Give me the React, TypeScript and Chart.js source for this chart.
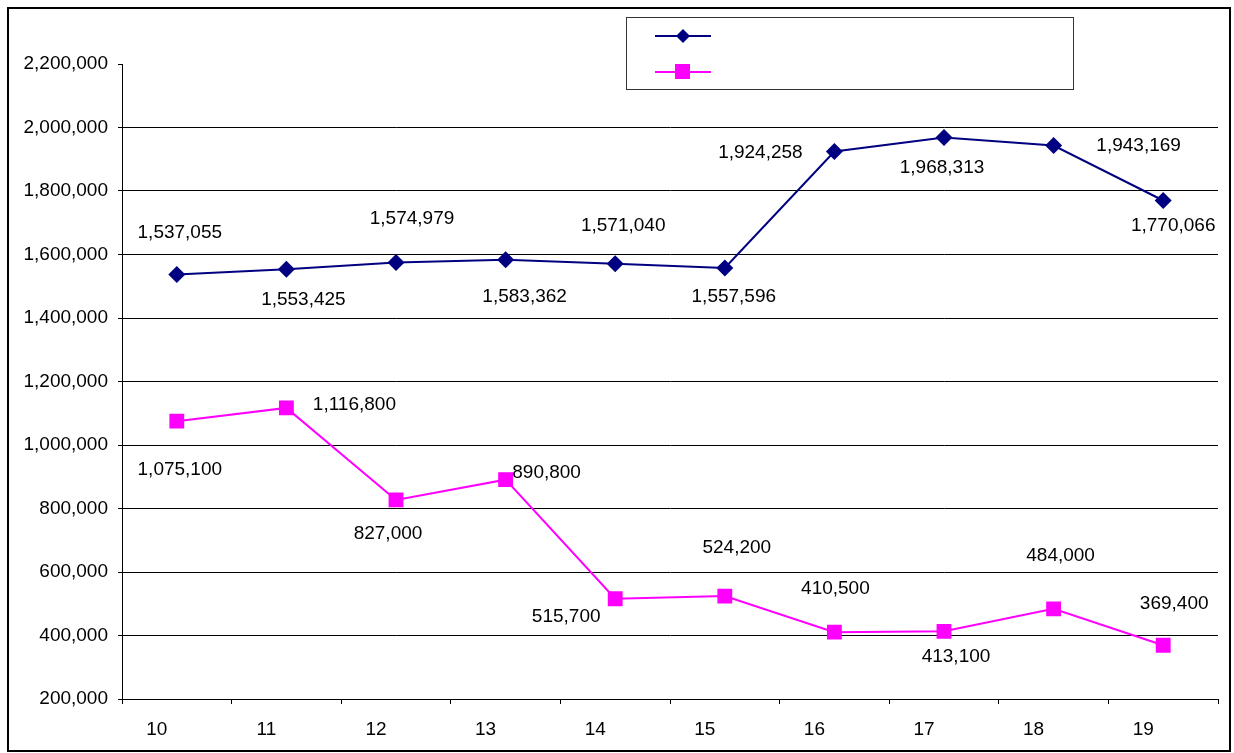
import React, { useEffect, useRef } from "react";
import { Chart, registerables } from "chart.js";

Chart.register(...registerables);

const categories = ["10", "11", "12", "13", "14", "15", "16", "17", "18", "19"];
const seriesA = [1537055, 1553425, 1574979, 1583362, 1571040, 1557596, 1924258, 1968313, 1943169, 1770066];
const seriesB = [1075100, 1116800, 827000, 890800, 515700, 524200, 410500, 413100, 484000, 369400];
const yTickValues = [200000, 400000, 600000, 800000, 1000000, 1200000, 1400000, 1600000, 1800000, 2000000, 2200000];

// label placement offsets (dx, dy) relative to each point
const labelOffsetsA: [number, number][] = [
  [3, -42], [17, 30], [16, -44], [19, 37], [8, -38], [9, 29], [-74, 1], [-2, 30], [85, 0], [10, 25],
];
const labelOffsetsB: [number, number][] = [
  [3, 49], [68, -3], [-8, 34], [41, -7], [-49, 18], [12, -48], [1, -43], [12, 25], [7, -53], [11, -41],
];

const FONT = "'Liberation Sans', Arial, sans-serif";
const NAVY = "#000080";
const MAGENTA = "#FF00FF";

const fmt = (v: number) => v.toLocaleString("en-US");

const decorPlugin = {
  id: "decor",
  afterDraw(chart: any) {
    const ctx = chart.ctx;
    ctx.save();
    // outer frame
    ctx.strokeStyle = "#000";
    ctx.lineWidth = 2;
    ctx.strokeRect(8, 8, 1222, 743);

    // data labels
    ctx.fillStyle = "#000";
    ctx.font = `19px ${FONT}`;
    ctx.textAlign = "center";
    ctx.textBaseline = "middle";
    const offs = [labelOffsetsA, labelOffsetsB];
    chart.data.datasets.forEach((ds: any, di: number) => {
      const meta = chart.getDatasetMeta(di);
      meta.data.forEach((pt: any, i: number) => {
        const [dx, dy] = offs[di][i];
        ctx.fillText(fmt(ds.data[i]), pt.x + dx, pt.y + dy);
      });
    });

    // legend box
    ctx.lineWidth = 1;
    ctx.strokeStyle = "#333";
    ctx.strokeRect(626.5, 17.5, 447, 72);
    // entry 1
    ctx.strokeStyle = NAVY;
    ctx.lineWidth = 2;
    ctx.beginPath();
    ctx.moveTo(655, 36);
    ctx.lineTo(711, 36);
    ctx.stroke();
    ctx.fillStyle = NAVY;
    ctx.beginPath();
    ctx.moveTo(683, 29);
    ctx.lineTo(690, 36);
    ctx.lineTo(683, 43);
    ctx.lineTo(676, 36);
    ctx.closePath();
    ctx.fill();
    // entry 2
    ctx.strokeStyle = MAGENTA;
    ctx.beginPath();
    ctx.moveTo(655, 72);
    ctx.lineTo(711, 72);
    ctx.stroke();
    ctx.fillStyle = MAGENTA;
    ctx.fillRect(675, 64, 15, 15);
    ctx.restore();
  },
};

export default function App() {
  const ref = useRef<HTMLCanvasElement>(null);
  useEffect(() => {
    document.body.style.margin = "0";
    const chart = new Chart(ref.current!, {
      type: "line",
      data: {
        labels: categories,
        datasets: [
          {
            label: "A",
            data: seriesA,
            borderColor: NAVY,
            backgroundColor: NAVY,
            borderWidth: 2,
            pointStyle: "rectRot",
            pointRadius: 8.5,
            pointBorderWidth: 0,
            tension: 0,
          },
          {
            label: "B",
            data: seriesB,
            borderColor: MAGENTA,
            backgroundColor: MAGENTA,
            borderWidth: 2,
            pointStyle: "rect",
            pointRadius: 10.5,
            pointBorderWidth: 0,
            tension: 0,
          },
        ],
      },
      options: {
        animation: false,
        responsive: false,
        devicePixelRatio: 1,
        layout: { padding: { left: 0, right: 16, top: 64, bottom: 0 } },
        plugins: { legend: { display: false }, tooltip: { enabled: false } },
        scales: {
          x: {
            offset: true,
            afterFit: (s: any) => { s.height = 54; },
            grid: {
              offset: true,
              drawOnChartArea: false,
              tickLength: 5,
              tickColor: "#000",
            },
            border: { display: true, color: "#000", width: 1 },
            ticks: {
              color: "#000",
              font: { family: FONT, size: 19 },
              padding: 14,
              labelOffset: -20,
              maxRotation: 0,
            },
          },
          y: {
            min: 200000,
            max: 2200000,
            afterFit: (s: any) => { s.width = 122; },
            afterBuildTicks: (s: any) => { s.ticks = yTickValues.map((v) => ({ value: v })); },
            grid: {
              color: (c: any) => (c.tick && c.tick.value === 2200000 ? "rgba(0,0,0,0)" : "#000"),
              tickColor: "#000",
              tickLength: 4,
              lineWidth: 1,
            },
            border: { display: true, color: "#000", width: 1 },
            ticks: {
              color: "#000",
              font: { family: FONT, size: 19 },
              padding: 10,
              callback: (v: any) => fmt(Number(v)),
            },
          },
        },
      },
      plugins: [decorPlugin],
    });
    return () => chart.destroy();
  }, []);
  return <canvas ref={ref} width={1234} height={753} style={{ display: "block" }} />;
}
